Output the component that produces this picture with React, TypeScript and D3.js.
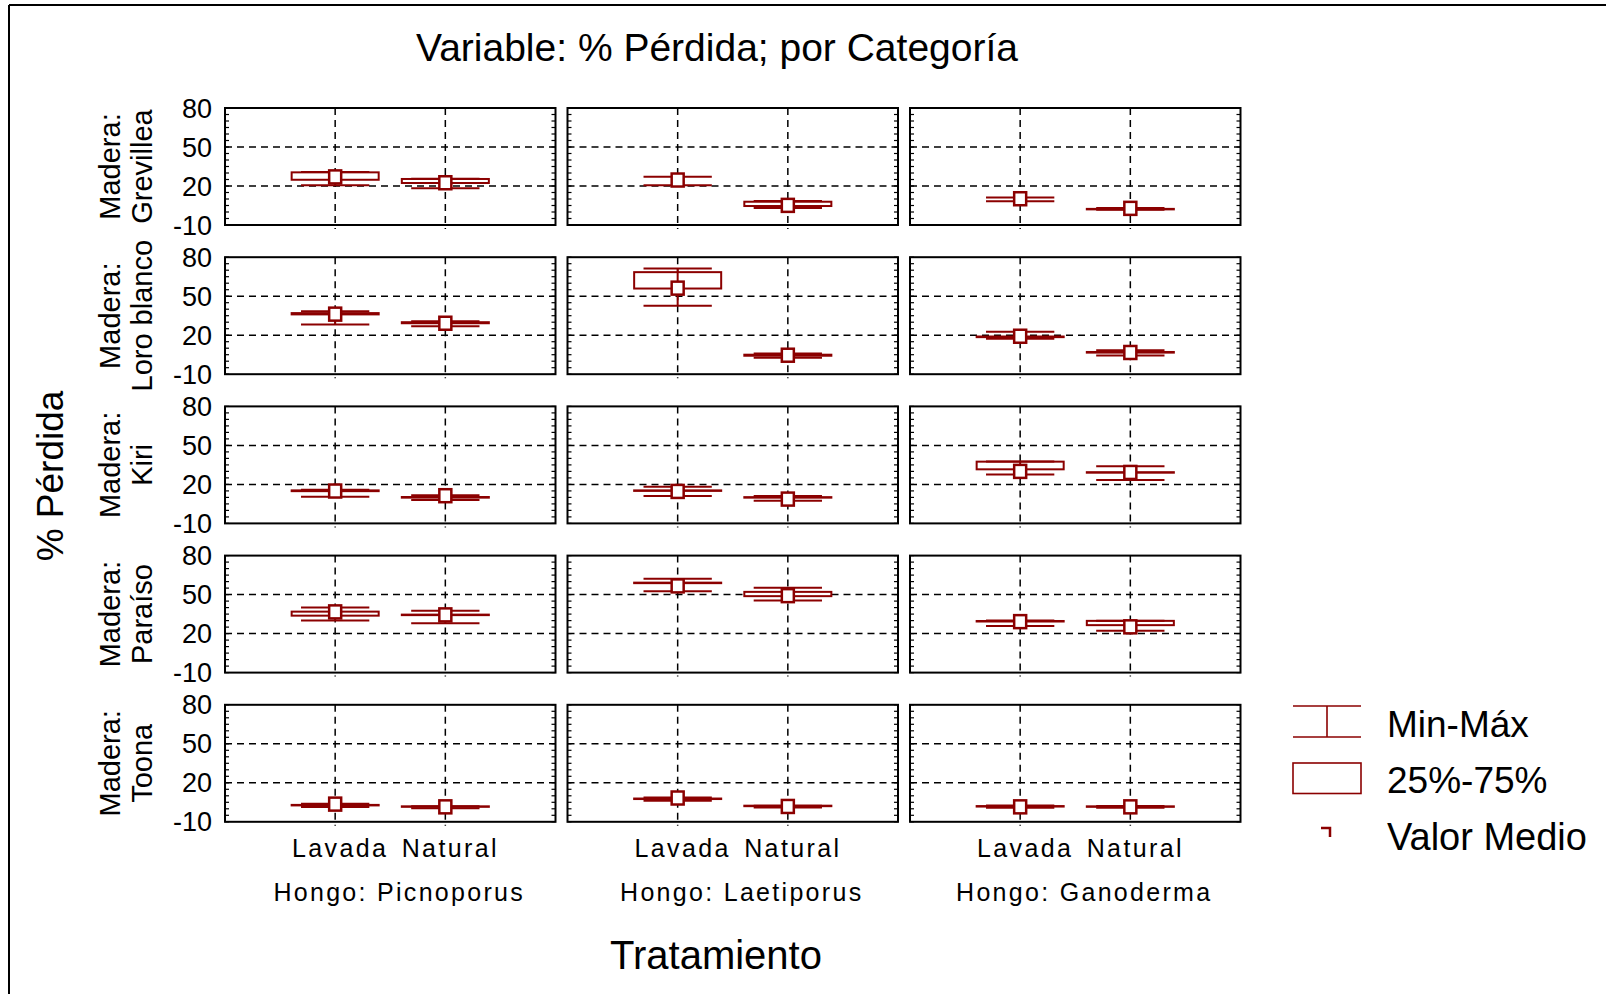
import React from "react";
import * as d3 from "d3";

const maderas = ["Grevillea", "Loro blanco", "Kiri", "Paraíso", "Toona"];
const hongos = ["Picnoporus", "Laetiporus", "Ganoderma"];
const tratamientos = ["Lavada", "Natural"];
const yTicks = [-10, 20, 50, 80];

// each row is one madera, columns: Picnoporus Lavada, Picnoporus Natural,
// Laetiporus Lavada, Laetiporus Natural, Ganoderma Lavada, Ganoderma Natural
const minVals = [
  [20.5, 18.2, 20.5, 3.1, 8.2, 1.8],
  [28.2, 26.9, 42.6, 2.6, 17.2, 4.4],
  [10.5, 8.0, 11.1, 7.5, 27.7, 23.4],
  [30.0, 28.0, 52.6, 45.4, 25.9, 22.2],
  [1.3, 0.5, 6.2, 1.0, 0.8, 0.8],
];
const q1Vals = [
  [24.8, 22.3, null, 4.6, null, 2.2],
  [36.0, 29.2, 55.9, 4.2, 18.5, 6.6],
  [14.8, 9.8, 15.0, 9.8, 31.6, 29.0],
  [33.8, 34.2, 58.8, 48.8, 29.3, 26.5],
  [2.6, 1.6, 7.5, 2.1, 1.8, 1.6],
];
const q3Vals = [
  [30.5, 25.4, null, 7.9, null, 2.4],
  [37.0, 30.0, 68.5, 5.0, 19.0, 7.1],
  [15.4, 10.3, 15.4, 10.2, 37.5, 29.4],
  [36.9, 34.6, 59.2, 52.1, 29.7, 29.8],
  [3.0, 1.9, 7.9, 2.4, 2.1, 1.9],
];
const maxVals = [
  [30.8, 25.6, 27.2, 8.5, 11.2, 3.1],
  [38.5, 30.8, 71.3, 5.9, 22.6, 8.5],
  [15.9, 11.6, 18.2, 11.1, 37.6, 33.9],
  [40.0, 37.5, 62.1, 55.2, 30.0, 29.8],
  [3.8, 1.9, 8.7, 2.4, 2.5, 2.2],
];
const meanVals = [
  [27.0, 22.5, 24.6, 5.1, 10.2, 2.8],
  [36.2, 29.2, 56.2, 4.6, 19.2, 6.7],
  [14.9, 11.3, 14.6, 8.7, 30.0, 29.2],
  [36.7, 34.4, 56.7, 49.2, 29.2, 25.2],
  [3.6, 1.5, 8.3, 1.8, 1.5, 1.5],
];

const FONT = "'Liberation Sans', Arial, Helvetica, sans-serif";
const RED = "#8b0000";

const PW = 330.5;
const PH = 117;
const colLeft = [225, 567.5, 910];
const rowTop = [108, 257.2, 406.4, 555.6, 704.8];

export default function App() {
  const y = d3.scaleLinear().domain([-10, 80]).range([PH, 0]);
  const x = d3.scalePoint().domain(tratamientos).range([0, PW]).padding(1);
  const step = x.step();
  const boxW = step * 0.79;
  const capW = step * 0.62;
  const minorTicks = d3.range(-10, 81, 5);

  return (
    <svg
      width={1614}
      height={994}
      style={{ position: "absolute", left: 0, top: 0, background: "#fff" }}
      fontFamily={FONT}
    >
      <rect width={1614} height={994} fill="#fff" />
      <line x1={9} y1={5} x2={1606} y2={5} stroke="#000" strokeWidth={2} />
      <line x1={9} y1={5} x2={9} y2={994} stroke="#000" strokeWidth={2} />

      <text x={717} y={61} fontSize={39} textAnchor="middle">
        Variable: % Pérdida; por Categoría
      </text>

      <text transform="translate(63,476) rotate(-90)" fontSize={37} textAnchor="middle">
        % Pérdida
      </text>

      <text x={716} y={969} fontSize={40} textAnchor="middle">
        Tratamiento
      </text>

      {maderas.map((m, r) => {
        const cy = rowTop[r] + PH / 2;
        return (
          <g key={m}>
            <text transform={`translate(120,${cy}) rotate(-90)`} fontSize={29} textAnchor="middle">
              Madera:
            </text>
            <text transform={`translate(151.5,${cy}) rotate(-90)`} fontSize={29} textAnchor="middle">
              {m}
            </text>
            {yTicks.map((t) => (
              <text
                key={t}
                x={colLeft[0] - 13}
                y={rowTop[r] + y(t) + 9.5}
                fontSize={27}
                textAnchor="end"
              >
                {t}
              </text>
            ))}
          </g>
        );
      })}

      {maderas.map((m, r) =>
        hongos.map((h, c) => (
          <g key={m + h} transform={`translate(${colLeft[c]},${rowTop[r]})`}>
            {/* grid */}
            {yTicks.slice(1, 3).map((t) => (
              <line key={t} x1={0} x2={PW} y1={y(t)} y2={y(t)} stroke="#000" strokeWidth={1.5} strokeDasharray="7,5" />
            ))}
            {tratamientos.map((t) => (
              <line key={t} x1={x(t)} x2={x(t)} y1={0} y2={PH + 4} stroke="#000" strokeWidth={1.5} strokeDasharray="7,5" />
            ))}
            {/* minor ticks */}
            {minorTicks.map((t) => (
              <g key={t}>
                <line x1={0} x2={4} y1={y(t)} y2={y(t)} stroke="#000" strokeWidth={1.2} />
                <line x1={PW - 4} x2={PW} y1={y(t)} y2={y(t)} stroke="#000" strokeWidth={1.2} />
              </g>
            ))}
            <rect x={0} y={0} width={PW} height={PH} fill="none" stroke="#000" strokeWidth={2} />

            {tratamientos.map((t, k) => {
              const i = c * 2 + k;
              const cx = x(t) as number;
              const lo = minVals[r][i];
              const hi = maxVals[r][i];
              const q1 = q1Vals[r][i];
              const q3 = q3Vals[r][i];
              const mean = meanVals[r][i];
              return (
                <g key={t}>
                  {q1 !== null && q3 !== null && (
                    <rect
                      x={cx - boxW / 2}
                      y={y(q3)}
                      width={boxW}
                      height={Math.max(y(q1) - y(q3), 0.5)}
                      fill="#fff"
                      stroke={RED}
                      strokeWidth={2}
                    />
                  )}
                  <line x1={cx} x2={cx} y1={y(hi)} y2={y(lo)} stroke={RED} strokeWidth={2} />
                  <line x1={cx - capW / 2} x2={cx + capW / 2} y1={y(hi)} y2={y(hi)} stroke={RED} strokeWidth={2} />
                  <line x1={cx - capW / 2} x2={cx + capW / 2} y1={y(lo)} y2={y(lo)} stroke={RED} strokeWidth={2} />
                  <rect x={cx - 6} y={y(mean) - 6.5} width={12} height={13} fill="#fff" stroke={RED} strokeWidth={2.5} />
                </g>
              );
            })}
          </g>
        ))
      )}

      {hongos.map((h, c) => (
        <g key={h}>
          {tratamientos.map((t) => (
            <text
              key={t}
              x={colLeft[c] + (x(t) as number) + 5}
              y={857}
              fontSize={25}
              letterSpacing={2.4}
              textAnchor="middle"
            >
              {t}
            </text>
          ))}
          <text
            x={colLeft[c] + PW / 2 + 9}
            y={901}
            fontSize={25}
            letterSpacing={2.3}
            textAnchor="middle"
          >
            {"Hongo: " + h}
          </text>
        </g>
      ))}

      {/* legend */}
      <g>
        <line x1={1293} x2={1361} y1={706} y2={706} stroke={RED} strokeWidth={1.6} />
        <line x1={1293} x2={1361} y1={737} y2={737} stroke={RED} strokeWidth={1.6} />
        <line x1={1327} x2={1327} y1={706} y2={737} stroke={RED} strokeWidth={1.6} />
        <rect x={1293} y={763} width={68} height={30.5} fill="#fff" stroke={RED} strokeWidth={1.6} />
        <path d="M1321,828 H1330 V837" fill="none" stroke={RED} strokeWidth={2.5} />
        <text x={1387} y={737} fontSize={37}>Min-Máx</text>
        <text x={1387} y={793} fontSize={37}>25%-75%</text>
        <text x={1387} y={850} fontSize={38}>Valor Medio</text>
      </g>
    </svg>
  );
}
